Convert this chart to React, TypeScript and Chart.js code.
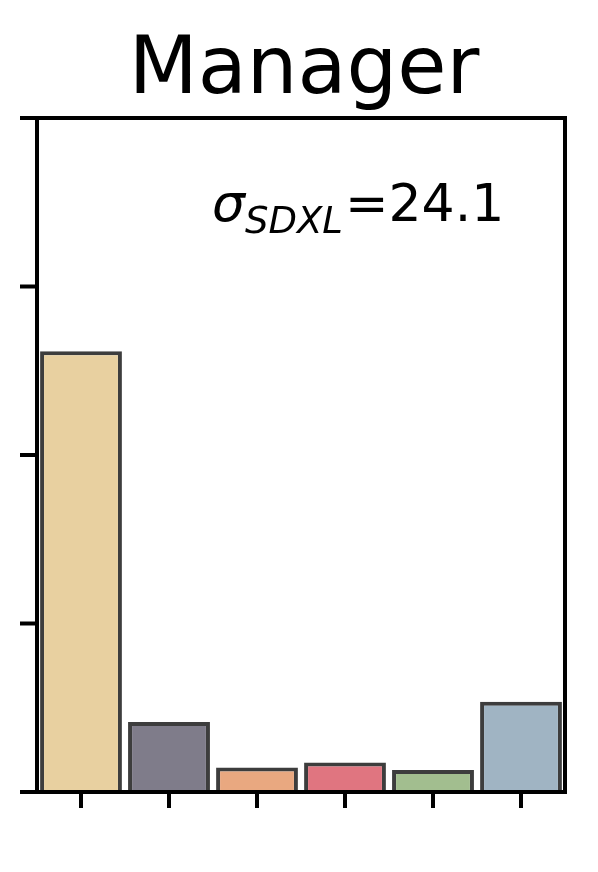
import React, { useEffect, useRef } from "react";
import { Chart, registerables } from "chart.js";

Chart.register(...registerables);

const TITLE = "Manager";
const categories = ["Group 1", "Group 2", "Group 3", "Group 4", "Group 5", "Group 6"];
const values = [52.3, 8.3, 2.9, 3.5, 2.6, 10.7];
const barColors = ["#E8D0A0", "#7F7C8A", "#E9A880", "#E07580", "#A2BE8F", "#A0B4C3"];
const yTicks = [0, 20, 40, 60, 80];
const sigmaLabel = "σ";
const sigmaSub = "SDXL";
const sigmaValue = "=24.1";

const decorPlugin = {
  id: "decor",
  afterDraw(chart: any) {
    const ctx = chart.ctx as CanvasRenderingContext2D;
    const { left, right, top, bottom } = chart.chartArea;
    const xs = chart.scales.x;
    const ys = chart.scales.y;
    ctx.save();
    ctx.strokeStyle = "#000";
    ctx.lineWidth = 4;
    ctx.lineCap = "butt";
    // frame
    ctx.strokeRect(left, top, right - left, bottom - top);
    // y ticks
    yTicks.forEach((v) => {
      const y = ys.getPixelForValue(v);
      ctx.beginPath();
      ctx.moveTo(left - 17, y);
      ctx.lineTo(left, y);
      ctx.stroke();
    });
    // x ticks
    categories.forEach((_, i) => {
      const x = xs.getPixelForValue(i);
      ctx.beginPath();
      ctx.moveTo(x, bottom);
      ctx.lineTo(x, bottom + 16);
      ctx.stroke();
    });
    // title
    ctx.fillStyle = "#000";
    ctx.textAlign = "center";
    ctx.textBaseline = "alphabetic";
    ctx.font = '80px "DejaVu Sans"';
    ctx.fillText(TITLE, (left + right) / 2 + 3, 93);
    // annotation
    ctx.textAlign = "left";
    let x = 212;
    const base = 221;
    ctx.font = 'italic 52px "DejaVu Sans"';
    ctx.fillText(sigmaLabel, x, base);
    x += ctx.measureText(sigmaLabel).width;
    ctx.font = 'italic 37px "DejaVu Sans"';
    ctx.fillText(sigmaSub, x, base + 12);
    x += ctx.measureText(sigmaSub).width + 2;
    ctx.font = '52px "DejaVu Sans"';
    ctx.fillText(sigmaValue, x, base);
    ctx.restore();
  },
};

export default function App() {
  const ref = useRef<HTMLCanvasElement | null>(null);
  useEffect(() => {
    if (!ref.current) return;
    const chart = new Chart(ref.current, {
      type: "bar",
      data: {
        labels: categories,
        datasets: [
          {
            data: values,
            backgroundColor: barColors,
            borderColor: "rgba(40,40,40,0.9)",
            borderWidth: 4,
            barPercentage: 0.93,
            categoryPercentage: 1,
          },
        ],
      },
      options: {
        responsive: false,
        animation: false,
        devicePixelRatio: 1,
        layout: { padding: { left: 37, right: 33, top: 118, bottom: 80 } },
        plugins: { legend: { display: false }, title: { display: false }, tooltip: { enabled: false } },
        scales: {
          x: { display: false },
          y: { display: false, min: 0, max: 80 },
        },
      },
      plugins: [decorPlugin],
    });
    return () => chart.destroy();
  }, []);
  return (
    <div style={{ position: "fixed", left: 0, top: 0, width: 598, height: 872, background: "#fff" }}>
      <canvas ref={ref} width={598} height={872} style={{ width: 598, height: 872, display: "block" }} />
    </div>
  );
}
